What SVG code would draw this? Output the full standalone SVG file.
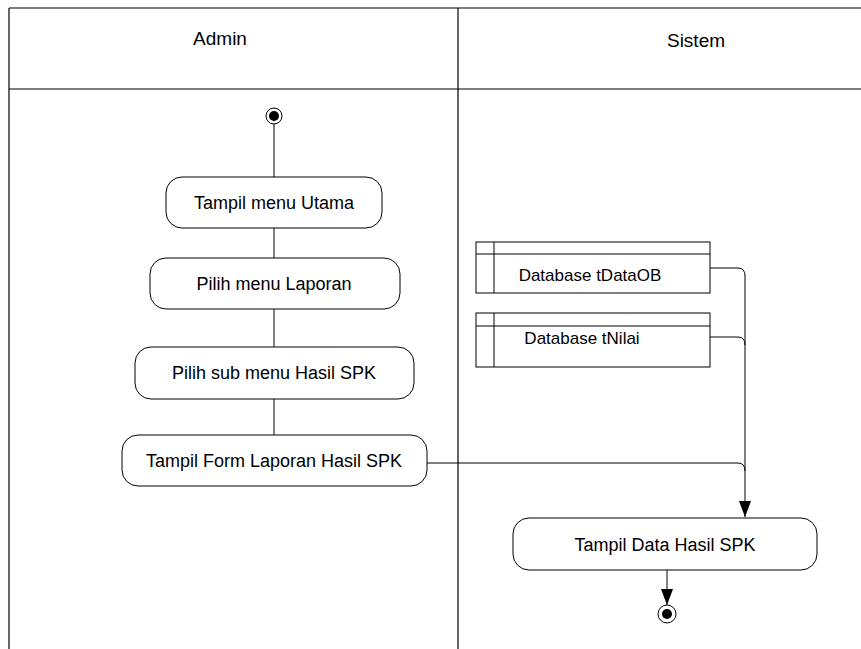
<svg xmlns="http://www.w3.org/2000/svg" width="861" height="649" viewBox="0 0 861 649">
  <style>
    .lane { stroke: #000; stroke-width: 1.2; fill: none; }
    .act { fill: #fff; stroke: #000; stroke-width: 1; }
    .db { fill: #fff; stroke: #000; stroke-width: 1; }
    .flow { stroke: #000; stroke-width: 1; fill: none; }
    .lbl { font-family: "Liberation Sans", Arial, sans-serif; font-size: 18px; text-anchor: middle; fill: #000; }
    .hdr { font-family: "Liberation Sans", Arial, sans-serif; font-size: 19px; text-anchor: middle; fill: #000; }
    .dbl { font-family: "Liberation Sans", Arial, sans-serif; font-size: 17px; text-anchor: middle; fill: #000; }
  </style>
  <defs>
    <marker id="arrow" viewBox="0 0 16 12" refX="16" refY="6" markerWidth="16" markerHeight="12" markerUnits="userSpaceOnUse" orient="auto">
      <path d="M0,0 L16,6 L0,12 Z" fill="#000"/>
    </marker>
  </defs>
  <rect width="861" height="649" fill="#fff"/>

  <!-- swimlanes -->
  <g id="lanes">
    <line class="lane" x1="9" y1="8" x2="861" y2="8"/>
    <line class="lane" x1="9" y1="8" x2="9" y2="649"/>
    <line class="lane" x1="458" y1="8" x2="458" y2="649"/>
    <line class="lane" x1="9" y1="89" x2="861" y2="89"/>
    <text class="hdr" x="220" y="45">Admin</text>
    <text class="hdr" x="696" y="47">Sistem</text>
  </g>

  <!-- connectors -->
  <g id="connectors">
    <line class="flow" x1="274" y1="124" x2="274" y2="177"/>
    <line class="flow" x1="274" y1="228" x2="274" y2="258"/>
    <line class="flow" x1="274" y1="309" x2="274" y2="347"/>
    <line class="flow" x1="274" y1="399" x2="274" y2="435"/>
    <path class="flow" d="M710,268 H738 Q745,268 745,276 V517" marker-end="url(#arrow)"/>
    <path class="flow" d="M710,337 H738 Q745,337 745,345"/>
    <path class="flow" d="M427,463 H738 Q745,463 745,471"/>
    <line class="flow" x1="667" y1="570" x2="667" y2="605" marker-end="url(#arrow)"/>
  </g>

  <g id="start">
    <circle cx="274" cy="116" r="8" fill="#fff" stroke="#000" stroke-width="1"/>
    <circle cx="274" cy="116" r="5" fill="#000"/>
  </g>

  <g id="tampil-menu-utama">
    <rect class="act" x="166" y="177" width="216" height="51" rx="16"/>
    <text class="lbl" x="274" y="209">Tampil menu Utama</text>
  </g>

  <g id="pilih-menu-laporan">
    <rect class="act" x="150" y="258" width="250" height="51" rx="16"/>
    <text class="lbl" x="274" y="290">Pilih menu Laporan</text>
  </g>

  <g id="pilih-sub-menu">
    <rect class="act" x="135" y="347" width="279" height="52" rx="16"/>
    <text class="lbl" x="274" y="379">Pilih sub menu Hasil SPK</text>
  </g>

  <g id="tampil-form-laporan">
    <rect class="act" x="122" y="435" width="305" height="51" rx="16"/>
    <text class="lbl" x="274" y="467">Tampil Form Laporan Hasil SPK</text>
  </g>

  <g id="db-tdataob">
    <rect class="db" x="476" y="242" width="234" height="51"/>
    <line class="db" x1="476" y1="254" x2="710" y2="254"/>
    <line class="db" x1="494" y1="242" x2="494" y2="293"/>
    <text class="dbl" x="590" y="281">Database tDataOB</text>
  </g>

  <g id="db-tnilai">
    <rect class="db" x="476" y="313" width="234" height="54"/>
    <line class="db" x1="476" y1="326" x2="710" y2="326"/>
    <line class="db" x1="494" y1="313" x2="494" y2="367"/>
    <text class="dbl" x="582" y="344">Database tNilai</text>
  </g>

  <g id="tampil-data-hasil">
    <rect class="act" x="513" y="518" width="304" height="52" rx="16"/>
    <text class="lbl" x="665" y="551">Tampil Data Hasil SPK</text>
  </g>

  <g id="end">
    <circle cx="667" cy="614" r="9" fill="#fff" stroke="#000" stroke-width="1"/>
    <circle cx="667" cy="614" r="5" fill="#000"/>
  </g>
</svg>
